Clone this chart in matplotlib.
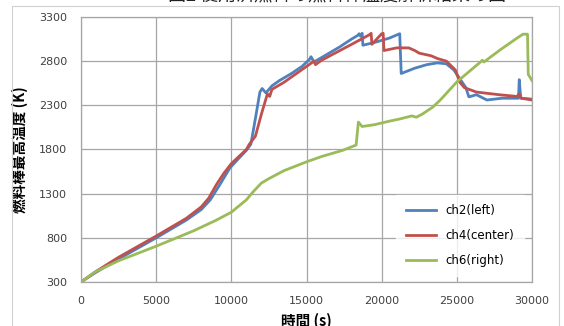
import matplotlib.pyplot as plt
from matplotlib.patches import Rectangle

plt.rcParams['font.family'] = ['DejaVu Sans', 'Noto Sans CJK JP']

# ch2 (left)
ch2_t = [0, 1000, 2500, 5000, 7000, 8000, 8600, 9300, 9900, 10500, 11000, 11300,
         11600, 11900, 12050, 12300, 12700, 13200, 14000, 14700, 15200, 15300,
         15500, 16200, 17200, 18000, 18400, 18500, 18600, 18700, 18750, 19500,
         20500, 21200, 21300, 22200, 23000, 23700, 24300, 24800, 25200, 25600,
         25800, 26300, 27000, 28000, 29000, 29100, 29150, 29250, 30000]
ch2_v = [300, 410, 560, 800, 1000, 1120, 1230, 1420, 1590, 1700, 1790, 1860,
         2150, 2450, 2490, 2440, 2520, 2580, 2660, 2740, 2820, 2850,
         2790, 2860, 2960, 3050, 3090, 3110, 3080, 3115, 2980, 3010,
         3060, 3110, 2660, 2720, 2760, 2780, 2770, 2700, 2600, 2500,
         2395, 2420, 2360, 2380, 2380, 2380, 2590, 2380, 2370]

# ch4 (center)
ch4_t = [0, 1000, 2500, 5000, 7000, 8000, 8500, 9000, 9500, 10000, 10500, 11000,
         11200, 11600, 12000, 12400, 12550, 12700, 13500, 14000, 14500, 15000,
         15500, 15600, 16000, 17000, 18000, 19200, 19300, 19350, 20000, 20100,
         20150, 21000, 21800, 22200, 22500, 23300, 23700, 24300, 24900, 25200,
         25500, 26300, 27800, 29000, 29150, 29300, 30000]
ch4_v = [300, 420, 580, 820, 1020, 1150, 1250, 1400, 1530, 1640, 1720, 1800,
         1860, 1950, 2200, 2430, 2400, 2480, 2560, 2620, 2680, 2740,
         2800, 2760, 2810, 2900, 2990, 3100, 3115, 2990, 3110, 3115,
         2920, 2950, 2950, 2920, 2890, 2860, 2830, 2800, 2700, 2560,
         2500, 2450, 2420, 2400, 2430, 2380, 2360]

# ch6 (right)
ch6_t = [0, 1000, 2500, 5000, 7500, 9000, 10000, 11000, 11500, 12000, 12500,
         13500, 15000, 16000, 17400, 18300, 18450, 18700, 19500, 20500, 21200,
         22000, 22300, 22700, 23400, 23900, 25000, 26500, 26700, 26800, 27900,
         29000, 29400, 29700, 29750, 30000]
ch6_v = [300, 420, 540, 705, 880, 1000, 1090, 1230, 1330, 1420, 1470,
         1560, 1660, 1720, 1790, 1850, 2110, 2060, 2080, 2120, 2145,
         2180, 2165, 2200, 2280, 2360, 2565, 2780, 2810, 2790, 2930,
         3060, 3105, 3105, 2650, 2580]

x_ticks = [0, 5000, 10000, 15000, 20000, 25000, 30000]
y_ticks = [300, 800, 1300, 1800, 2300, 2800, 3300]

fig = plt.figure(figsize=(5.64, 3.26), dpi=100)
ax = fig.add_axes([0.1436, 0.135, 0.7997, 0.813])

ax.plot(ch2_t, ch2_v, color='#4F81BD', linewidth=2.0, label='ch2(left)')
ax.plot(ch4_t, ch4_v, color='#C0504D', linewidth=2.0, label='ch4(center)')
ax.plot(ch6_t, ch6_v, color='#9BBB59', linewidth=2.0, label='ch6(right)')

ax.set_xlim(0, 30000)
ax.set_ylim(300, 3300)
ax.set_xticks(x_ticks)
ax.set_yticks(y_ticks)
ax.tick_params(length=0, labelsize=8, labelcolor='#404040', pad=10)
ax.grid(True, color='#A6A6A6', linewidth=0.9)
ax.set_axisbelow(True)
for s in ax.spines.values():
    s.set_color('#A6A6A6')
    s.set_linewidth(0.9)

ax.set_ylabel('燃料棒最高温度 (K)', family=['Noto Sans CJK JP', 'DejaVu Sans'],
              fontsize=10.5, fontweight='bold', labelpad=8)
ax.set_xlabel('時間 (s)', family=['Noto Sans CJK JP', 'DejaVu Sans'],
              fontsize=10.5, fontweight='bold', labelpad=5)

leg = ax.legend(loc='lower right', bbox_to_anchor=(0.995, 0.0), frameon=True,
                fontsize=8.5, handlelength=2.6, labelspacing=1.0,
                borderpad=0.8, fancybox=False)
leg.get_frame().set_edgecolor('white')
leg.get_frame().set_facecolor('white')

# title is mostly cut off at the top edge in the original
fig.text(0.598, 1.014, '図2 使用済燃料の燃料棒温度解析結果の図',
         family=['Noto Sans CJK JP', 'DejaVu Sans'], fontsize=13,
         ha='center', va='center', color='#222222')

fig.patches.append(Rectangle((12 / 564, -0.1), 547 / 564, 1.1 - 6 / 326,
                             transform=fig.transFigure, fill=False,
                             edgecolor='#D0D0D0', linewidth=0.8))

fig.savefig('out.png', dpi=100)
